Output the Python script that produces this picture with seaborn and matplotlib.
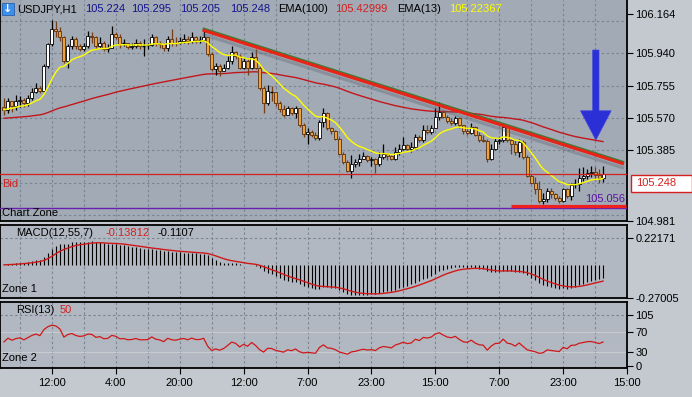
import numpy as np
import pandas as pd
import matplotlib
matplotlib.use('Agg')
import matplotlib.pyplot as plt
import matplotlib.patheffects as pe
from matplotlib.patches import Rectangle
import seaborn as sns

# ---- USDJPY H1 candles (bar 0 = left edge) ----
first_open = 105.635
closes = [
    105.616, 105.664, 105.641, 105.664, 105.674, 105.654, 105.683, 105.718, 105.741, 105.726,
    105.866, 105.992, 106.079, 106.069, 106.030, 105.895, 105.982, 106.021, 105.982, 105.963,
    105.982, 106.040, 106.034, 105.982, 106.001, 105.963, 105.972, 106.050, 106.034, 105.992,
    105.996, 105.976, 105.982, 106.001, 105.982, 105.982, 105.984, 106.030, 106.001, 105.992,
    105.969, 106.021, 106.001, 105.996, 106.011, 106.021, 106.007, 106.030, 106.015, 106.015,
    106.030, 105.934, 105.847, 105.866, 105.838, 105.857, 105.895, 105.944, 105.924, 105.857,
    105.895, 105.857, 105.918, 105.857, 105.741, 105.654, 105.722, 105.718, 105.654, 105.622,
    105.587, 105.625, 105.597, 105.625, 105.529, 105.481, 105.490, 105.471, 105.456, 105.548,
    105.597, 105.510, 105.496, 105.452, 105.365, 105.317, 105.269, 105.307, 105.317, 105.336,
    105.350, 105.327, 105.333, 105.307, 105.346, 105.365, 105.352, 105.336, 105.375, 105.394,
    105.417, 105.394, 105.404, 105.462, 105.442, 105.500, 105.491, 105.510, 105.577, 105.606,
    105.577, 105.552, 105.543, 105.568, 105.529, 105.494, 105.485, 105.519, 105.475, 105.446,
    105.440, 105.336, 105.394, 105.437, 105.442, 105.519, 105.442, 105.423, 105.375, 105.433,
    105.346, 105.240, 105.201, 105.163, 105.095, 105.105, 105.153, 105.134, 105.115, 105.095,
    105.163, 105.124, 105.186, 105.190, 105.224, 105.240, 105.255, 105.259, 105.244, 105.224,
    105.248,
]
highs = [
    105.683, 105.683, 105.664, 105.703, 105.693, 105.683, 105.703, 105.741, 105.770, 105.751,
    105.876, 106.001, 106.127, 106.123, 106.088, 106.040, 105.992, 106.040, 106.030, 105.992,
    106.001, 106.069, 106.059, 106.040, 106.030, 106.011, 105.992, 106.098, 106.059, 106.050,
    106.021, 106.001, 106.001, 106.021, 106.011, 106.021, 106.001, 106.050, 106.040, 106.011,
    106.001, 106.040, 106.079, 106.030, 106.030, 106.050, 106.040, 106.059, 106.040, 106.040,
    106.079, 106.030, 105.944, 105.886, 105.876, 105.876, 105.924, 105.982, 105.953, 105.934,
    105.915, 105.905, 105.944, 105.963, 105.866, 105.751, 105.760, 105.751, 105.703, 105.664,
    105.645, 105.641, 105.635, 105.641, 105.629, 105.539, 105.510, 105.500, 105.490, 105.558,
    105.629, 105.606, 105.519, 105.500, 105.462, 105.375, 105.327, 105.356, 105.336, 105.365,
    105.375, 105.356, 105.346, 105.340, 105.375, 105.423, 105.371, 105.359, 105.404, 105.423,
    105.462, 105.423, 105.433, 105.481, 105.471, 105.529, 105.529, 105.529, 105.626, 105.660,
    105.616, 105.587, 105.568, 105.583, 105.577, 105.529, 105.510, 105.539, 105.525, 105.491,
    105.471, 105.452, 105.423, 105.456, 105.462, 105.539, 105.529, 105.452, 105.442, 105.452,
    105.442, 105.356, 105.250, 105.230, 105.211, 105.143, 105.172, 105.172, 105.143, 105.124,
    105.172, 105.172, 105.201, 105.221, 105.282, 105.288, 105.278, 105.294, 105.288, 105.278,
    105.295,
]
lows = [
    105.587, 105.597, 105.606, 105.616, 105.635, 105.635, 105.641, 105.674, 105.712, 105.712,
    105.718, 105.857, 105.982, 106.030, 106.011, 105.886, 105.857, 105.963, 105.963, 105.953,
    105.953, 105.972, 106.001, 105.963, 105.972, 105.953, 105.944, 105.972, 106.021, 105.972,
    105.982, 105.963, 105.963, 105.972, 105.963, 105.924, 105.963, 105.982, 105.982, 105.972,
    105.953, 105.953, 105.982, 105.982, 105.992, 105.996, 105.992, 106.001, 106.001, 106.001,
    106.011, 105.924, 105.838, 105.818, 105.809, 105.838, 105.847, 105.876, 105.905, 105.847,
    105.847, 105.818, 105.847, 105.847, 105.731, 105.597, 105.645, 105.664, 105.641, 105.606,
    105.577, 105.597, 105.587, 105.568, 105.519, 105.462, 105.423, 105.462, 105.442, 105.442,
    105.519, 105.500, 105.481, 105.442, 105.356, 105.307, 105.259, 105.224, 105.288, 105.298,
    105.333, 105.317, 105.298, 105.255, 105.298, 105.336, 105.327, 105.327, 105.327, 105.356,
    105.384, 105.384, 105.375, 105.394, 105.433, 105.433, 105.481, 105.481, 105.529, 105.558,
    105.568, 105.539, 105.529, 105.529, 105.510, 105.481, 105.471, 105.481, 105.467, 105.433,
    105.433, 105.317, 105.327, 105.384, 105.423, 105.433, 105.433, 105.365, 105.356, 105.346,
    105.336, 105.230, 105.192, 105.134, 105.086, 105.076, 105.089, 105.114, 105.101, 105.086,
    105.089, 105.114, 105.101, 105.172, 105.153, 105.211, 105.221, 105.230, 105.221, 105.201,
    105.205,
]

ema100_start = 105.568      # EMA(100) value at the left edge
rsi_start_avg = 0.012       # RSI starts near 50 at the left edge

time_ticks = [12, 28, 44, 60, 76, 92, 108, 124, 140, 156]
time_labels = ['12:00', '4:00', '20:00', '12:00', '7:00', '23:00', '15:00', '7:00', '23:00', '15:00']
price_labels = [106.164, 105.940, 105.755, 105.570, 105.385, 104.981]
price_grid = [105.015, 105.200, 105.385, 105.570, 105.755, 105.940, 106.125]
macd_labels = [0.22171, -0.27005]
rsi_labels = [0, 30, 70, 105]

bid_price = 105.248
zone_price = 105.056
support_x = [127, 155.7]
support_y = [105.065, 105.065]
trend_x = [49.75, 155.25]
trend_y = [106.072, 105.307]
arrow_x = 148.2
arrow_y = [105.958, 105.444]

# ---- indicators ----
close = pd.Series(closes)
opens = pd.Series([first_open] + closes[:-1])
hi = np.maximum(np.array(highs), np.maximum(opens, close))
lo = np.minimum(np.array(lows), np.minimum(opens, close))
idx = np.arange(len(closes))

ema13 = close.ewm(span=13, adjust=False).mean()
a100 = 2 / 101
ema100 = [ema100_start]
for c in closes[1:]:
    ema100.append(ema100[-1] + a100 * (c - ema100[-1]))
macd = close.ewm(span=12, adjust=False).mean() - close.ewm(span=55, adjust=False).mean()
signal = macd.ewm(span=7, adjust=False).mean()
delta = close.diff().fillna(0)
ag, al = rsi_start_avg, rsi_start_avg
rsi = []
for d in delta:
    ag = (ag * 12 + max(d, 0)) / 13
    al = (al * 12 + max(-d, 0)) / 13
    rsi.append(100 - 100 / (1 + ag / al))

# ---- style ----
PANEL = '#a2aab5'
SUB = '#b2b8c1'
OUTER = '#c4c8cf'
GRID = '#7a8593'
W, H = 692, 397
plt.rcParams['font.family'] = ['Liberation Sans', 'DejaVu Sans']
FS = 8

fig = plt.figure(figsize=(W / 100, H / 100), dpi=100)
fig.patch.set_facecolor(OUTER)


def fx(px):
    return px / W


def fy(py):
    return 1 - py / H


ax_p = fig.add_axes([0, fy(221), fx(627), fy(0) - fy(221)])
ax_m = fig.add_axes([0, fy(297.5), fx(627), fy(224.5) - fy(297.5)])
ax_r = fig.add_axes([0, fy(368), fx(627), fy(301.5) - fy(368)])

for ax, bg in [(ax_p, PANEL), (ax_m, SUB), (ax_r, SUB)]:
    ax.set_facecolor(bg)
    ax.set_xlim(-1, 156)
    for s in ax.spines.values():
        s.set_color('black')
        s.set_linewidth(1.3)
    for gx in range(4, 150, 8):
        ax.axvline(gx, color=GRID, lw=0.8, ls=(0, (2.2, 2.2)), zorder=1)
    ax.yaxis.tick_right()
    ax.tick_params(axis='y', direction='out', length=4, width=0.8, labelsize=FS, pad=2)
    ax.tick_params(axis='x', bottom=False, labelbottom=False)
ax_p.spines['top'].set_visible(False)

# ---- price panel ----
ax_p.set_ylim(104.981, 106.244)
ax_p.set_yticks(price_labels)
ax_p.set_yticklabels([f'{v:.3f}' for v in price_labels])
for gy in price_grid:
    ax_p.axhline(gy, color=GRID, lw=0.8, ls=(0, (2.2, 2.2)), zorder=1)

sns.lineplot(x=idx, y=ema100, ax=ax_p, color='#c3161c', lw=1.0, zorder=2)

up = close.values >= opens.values
doji = np.abs(close.values - opens.values) < 0.004
wick_col = np.where(up, 'black', '#7a3e14')
ax_p.vlines(idx, lo, hi, colors=wick_col, lw=0.9, zorder=3)
body_fc = np.where(up, 'white', '#eda33a')
body_ec = np.where(up, 'black', '#5a2e0e')
ax_p.bar(idx[~doji], (close - opens).values[~doji], bottom=opens.values[~doji], width=0.75,
         color=body_fc[~doji], edgecolor=body_ec[~doji], linewidth=0.6, zorder=4)
ax_p.hlines(close.values[doji], idx[doji] - 0.4, idx[doji] + 0.4, colors='black', lw=1.0, zorder=4)

sns.lineplot(x=idx, y=ema13, ax=ax_p, color='#ffff00', lw=1.0, zorder=5)

ax_p.axhline(bid_price, color='#d52020', lw=0.9, zorder=5)
ax_p.axhline(zone_price, color='#6a1fb0', lw=1.0, zorder=5)
ax_p.plot(support_x, support_y, color='#ee2020', lw=2.3, zorder=6, solid_capstyle='butt')
ax_p.plot(trend_x, trend_y, color='#e82418', lw=2.3, zorder=6, solid_capstyle='butt',
          path_effects=[pe.SimpleLineShadow(offset=(0, -3), shadow_color='#5a6270', alpha=0.35),
                        pe.SimpleLineShadow(offset=(0, 0.9), shadow_color='#2f7a2a', alpha=0.9),
                        pe.Normal()])
ax_p.annotate('', xy=(arrow_x, arrow_y[1]), xytext=(arrow_x, arrow_y[0]), zorder=7,
              arrowprops=dict(arrowstyle='simple,head_length=2.1,head_width=2.2,tail_width=0.45',
                              fc='#2b30d6', ec='#3b40e0', lw=0.5, shrinkA=0, shrinkB=0,
                              mutation_scale=10))

# ---- MACD panel ----
ax_m.set_ylim(-0.27005, 0.334)
ax_m.set_yticks(macd_labels)
ax_m.set_yticklabels(['0.22171', '-0.27005'])
ax_m.axhline(0.22171, color=GRID, lw=0.8, ls=(0, (2.2, 2.2)), zorder=1)
ax_m.vlines(idx, 0, macd, colors='black', lw=0.8, zorder=3)
sns.lineplot(x=idx, y=signal, ax=ax_m, color='#d01818', lw=1.0, zorder=4)

# ---- RSI panel ----
ax_r.set_ylim(-3.3, 132.6)
ax_r.set_yticks(rsi_labels)
ax_r.axhline(105, color=GRID, lw=0.8, ls=(0, (2.2, 2.2)), zorder=1)
for lvl in (30, 70):
    ax_r.axhline(lvl, color='#c6cad1', lw=0.8, zorder=1)
sns.lineplot(x=idx, y=rsi, ax=ax_r, color='#d01818', lw=0.9, zorder=4)
ax_r.set_xticks(time_ticks)
ax_r.set_xticklabels(time_labels)
ax_r.tick_params(axis='x', bottom=True, labelbottom=True, direction='out', length=4,
                 width=0.8, labelsize=FS, pad=3)
for ax in (ax_p, ax_m, ax_r):
    ax.set_xlabel('')
    ax.set_ylabel('')

# ---- texts ----
def txt(px, py, s, color='black', **kw):
    fig.text(fx(px), fy(py), s, color=color, fontsize=FS, va='center', **kw)


fig.patches.append(Rectangle((fx(2), fy(15)), fx(12), fy(3) - fy(15), transform=fig.transFigure,
                             fc='#3d8fe8', ec='#2a60b0', lw=0.6, zorder=5))
fig.text(fx(8), fy(9), '\u2193', color='white', fontsize=8, ha='center', va='center',
         fontweight='bold', family='DejaVu Sans', zorder=6)
txt(17, 9, 'USDJPY,H1')
dark_blue = '#14148c'
txt(85, 9, '105.224', dark_blue)
txt(131, 9, '105.295', dark_blue)
txt(180, 9, '105.205', dark_blue)
txt(230, 9, '105.248', dark_blue)
txt(278, 9, 'EMA(100)')
txt(335, 9, '105.42999', '#d42020')
txt(397, 9, 'EMA(13)')
txt(449, 9, '105.22367', '#ffff00')

txt(2, 184, 'Bid', '#d42020')
txt(2, 213, 'Chart Zone')
txt(625, 199, '105.056', '#5a14a0', ha='right')
fig.patches.append(Rectangle((fx(631), fy(192)), fx(61), fy(175) - fy(192), transform=fig.transFigure,
                             fc='white', ec='#d42020', lw=1.0, zorder=5))
txt(636, 183.5, '105.248', '#d42020', zorder=6)

txt(16, 233, 'MACD(12,55,7)')
txt(105, 233, '-0.13812', '#d42020')
txt(158, 233, '-0.1107')
txt(2, 289, 'Zone 1')
txt(16, 310, 'RSI(13)')
txt(60, 310, '50', '#d42020')
txt(2, 358, 'Zone 2')

fig.savefig('out.png', dpi=100, facecolor=fig.get_facecolor())
